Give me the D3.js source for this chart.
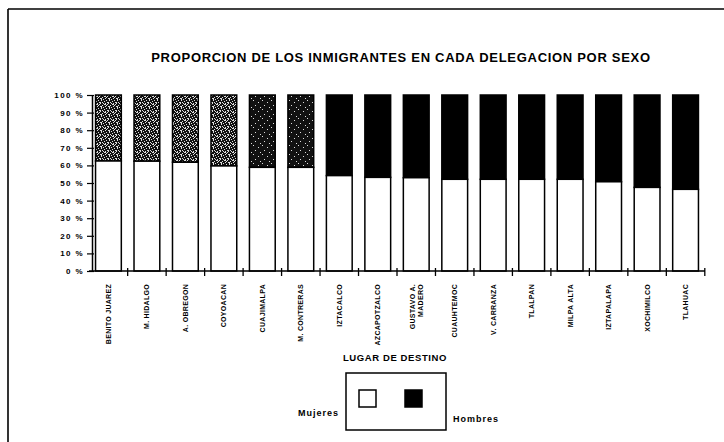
<!DOCTYPE html>
<html>
<head>
	<script src="https://cdn.jsdelivr.net/npm/d3@7"></script>
	<style>
		html, body {
			padding: 0;
			margin: 0;
			background: #fff;
		}
		text {
			font-family: "Liberation Sans", Arial, sans-serif;
			font-weight: bold;
			fill: #000;
		}
	</style>
</head>
<body>
	<script>
		// ~ ~ ~ DATA ~ ~ ~
		var delegaciones = ["BENITO JUAREZ", "M. HIDALGO", "A. OBREGON", "COYOACAN", "CUAJIMALPA",
			"M. CONTRERAS", "IZTACALCO", "AZCAPOTZALCO", "GUSTAVO A.|MADERO", "CUAUHTEMOC",
			"V. CARRANZA", "TLALPAN", "MILPA ALTA", "IZTAPALAPA", "XOCHIMILCO", "TLAHUAC"];
		var mujeres = [62.5, 62.4, 61.8, 59.7, 58.9, 58.9, 54.2, 53.2, 53.0, 52.1, 52.1, 52.1, 52.1, 50.7, 47.5, 46.4];
		var hombres = mujeres.map(function(m) { return 100 - m; });
		var yTicks = [0, 10, 20, 30, 40, 50, 60, 70, 80, 90, 100];
		var series = ["Mujeres", "Hombres"];

		var width = 724, height = 442;

		var svg = d3.select("body").append("svg")
			.attr("width", width)
			.attr("height", height);

		// frame (scanned page, only top and left edges visible)
		svg.append("line").attr("x1", 8).attr("y1", 9).attr("x2", width).attr("y2", 9)
			.attr("stroke", "#000").attr("stroke-width", 1.6);
		svg.append("line").attr("x1", 8).attr("y1", 9).attr("x2", 8).attr("y2", height)
			.attr("stroke", "#000").attr("stroke-width", 1.6);

		// speckled fills (scan texture on first bars)
		var defs = svg.append("defs");
		var makeSpeckle = function(id, size, dots) {
			var p = defs.append("pattern").attr("id", id)
				.attr("patternUnits", "userSpaceOnUse")
				.attr("width", size).attr("height", size);
			p.append("rect").attr("width", size).attr("height", size).attr("fill", "#111");
			dots.forEach(function(d) {
				p.append("rect").attr("x", d[0]).attr("y", d[1])
					.attr("width", d[2] || 1).attr("height", 1).attr("fill", "#ddd");
			});
		};
		makeSpeckle("speckle", 8, [[0, 0, 2], [3, 0], [6, 1], [1, 2], [4, 2, 2], [7, 3], [2, 4], [5, 4],
			[0, 5], [3, 6, 2], [6, 6], [1, 7], [7, 7], [4, 7], [2, 1], [5, 3]]);
		makeSpeckle("speckle-dark", 9, [[1, 1], [6, 3], [3, 6], [8, 8]]);

		var x = d3.scaleBand().domain(delegaciones).range([89, 705]).paddingInner(0.33).paddingOuter(0.17);
		var y = d3.scaleLinear().domain([0, 100]).range([271, 95]);

		// title
		svg.append("text")
			.attr("x", 401).attr("y", 62)
			.attr("text-anchor", "middle")
			.style("font-size", "13px")
			.style("letter-spacing", "0.7px")
			.text("PROPORCION DE LOS INMIGRANTES EN CADA DELEGACION POR SEXO");

		// bars
		var topFill = function(d, i) {
			if (i < 4) return "url(#speckle)";
			if (i < 6) return "url(#speckle-dark)";
			return "#000";
		};

		var bars = svg.append("g").selectAll("g")
			.data(delegaciones)
			.enter().append("g");

		bars.append("rect")
			.attr("x", function(d) { return x(d); })
			.attr("width", x.bandwidth())
			.attr("y", function(d, i) { return y(mujeres[i] + hombres[i]); })
			.attr("height", function(d, i) { return y(mujeres[i]) - y(mujeres[i] + hombres[i]); })
			.attr("fill", topFill)
			.attr("stroke", "#000").attr("stroke-width", 1.5);

		bars.append("rect")
			.attr("x", function(d) { return x(d); })
			.attr("width", x.bandwidth())
			.attr("y", function(d, i) { return y(mujeres[i]); })
			.attr("height", function(d, i) { return y(0) - y(mujeres[i]); })
			.attr("fill", "#fff")
			.attr("stroke", "#000").attr("stroke-width", 1.5);

		// y axis
		var yAxis = svg.append("g")
			.attr("transform", "translate(92,0)")
			.call(d3.axisLeft(y).tickValues(yTicks).tickSizeInner(5).tickSizeOuter(0)
				.tickFormat(function(d) { return d + " %"; }));
		yAxis.select(".domain").attr("stroke-width", 1.5);
		yAxis.selectAll(".tick line").attr("x2", 2).attr("x1", -5).attr("stroke-width", 1.2);
		yAxis.selectAll(".tick text")
			.attr("x", -8)
			.style("font-size", "8px")
			.style("letter-spacing", "1.4px")
			.style("font-weight", "bold")
			.style("font-family", "'Liberation Sans', Arial, sans-serif");

		// x axis: baseline with ticks at category boundaries
		var xAxis = svg.append("g");
		xAxis.append("line")
			.attr("x1", 89).attr("x2", 705)
			.attr("y1", y(0)).attr("y2", y(0))
			.attr("stroke", "#000").attr("stroke-width", 1.5);
		var step = x.step();
		var bounds = delegaciones.map(function(d) { return x(d) + x.bandwidth() + (step - x.bandwidth()) / 2; });
		xAxis.selectAll(".bt").data(bounds).enter().append("line")
			.attr("x1", function(d) { return d; }).attr("x2", function(d) { return d; })
			.attr("y1", y(0) - 3).attr("y2", y(0) + 5)
			.attr("stroke", "#000").attr("stroke-width", 1.3);

		// category labels (rotated)
		var labels = svg.append("g").selectAll("text")
			.data(delegaciones)
			.enter().append("text")
			.attr("transform", function(d) {
				var cx = x(d) + x.bandwidth() / 2;
				return "translate(" + cx + ",284) rotate(-90)";
			})
			.attr("text-anchor", "end")
			.style("font-size", "7px")
			.style("letter-spacing", "0.3px");
		labels.each(function(d) {
			var lines = d.split("|");
			var t = d3.select(this);
			lines.forEach(function(l, k) {
				t.append("tspan")
					.attr("x", 0)
					.attr("dy", k === 0 ? (lines.length > 1 ? "-0.15em" : "0.35em") : "1.1em")
					.text(l);
			});
		});

		// legend
		svg.append("text")
			.attr("x", 395).attr("y", 361)
			.attr("text-anchor", "middle")
			.style("font-size", "9.5px")
			.style("letter-spacing", "0.6px")
			.text("LUGAR DE DESTINO");

		svg.append("rect")
			.attr("x", 346).attr("y", 373).attr("width", 100).attr("height", 57)
			.attr("fill", "none").attr("stroke", "#000").attr("stroke-width", 1.5);

		var legendFill = ["#fff", "#000"];
		var legendX = [359, 405];
		svg.selectAll(".lg").data(series).enter().append("rect")
			.attr("x", function(d, i) { return legendX[i]; })
			.attr("y", 390).attr("width", 17).attr("height", 17)
			.attr("fill", function(d, i) { return legendFill[i]; })
			.attr("stroke", "#000").attr("stroke-width", 1.5);

		svg.append("text").attr("x", 339).attr("y", 416).attr("text-anchor", "end")
			.style("font-size", "9px").style("letter-spacing", "1px").text(series[0]);
		svg.append("text").attr("x", 453).attr("y", 422)
			.style("font-size", "9px").style("letter-spacing", "1px").text(series[1]);
	</script>
</body>
</html>
